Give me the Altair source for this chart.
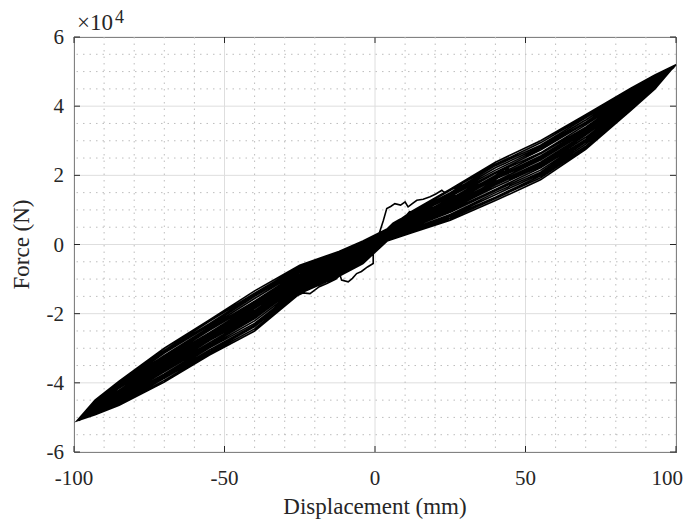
import altair as alt
import pandas as pd

W, H = 602, 415
FONT = "Liberation Serif"
INK = "#262626"

X_TICKS = [-100, -50, 0, 50, 100]
Y_TICKS = [-6, -4, -2, 0, 2, 4, 6]
X_MINOR = [-90, -80, -70, -60, -40, -30, -20, -10, 10, 20, 30, 40, 60, 70, 80, 90]
Y_MINOR = [-5.5, -5, -4.5, -3.5, -3, -2.5, -1.5, -1, -0.5, 0.5, 1, 1.5, 2.5, 3, 3.5, 4.5, 5, 5.5]
X_TITLE = "Displacement (mm)"
Y_TITLE = "Force (N)"
EXPONENT = ["\u00d710", "4"]

# initial small cycles (displacement mm, force x1e4 N)
INIT_X = [0, 1.5, 2.8, 3.9, 5.2, 6.6, 8.5, 10, 11, 12.5, 13.9, 16, 18.3, 20.2, 22.2, 23.3, 25.5, 28, 31.6, 34,
          32, 29, 26, 23, 20, 17, 14, 11.5, 10, 8, 6, 4, 2, 0,
          -0.6, -0.6, -2.5, -4.5, -6.1, -7.5, -8.9, -11.1, -11.6, -13, -16, -18.5, -21.6, -24, -26.6, -29, -31.6, -33.8,
          -31, -28, -24, -20, -16, -12, -9, -6, -3, 0,
          3, 6, 9, 12, 15, 18, 21, 24, 28, 32, 36, 40, 45,
          42, 38, 33, 28, 23, 18, 13, 8, 4, 0, -3, -6, -10, -14, -18, -22, -26, -30, -35, -40, -45,
          -42, -38, -33, -28, -23, -18, -13, -8, -4, 0,
          12, 25, 40, 55, 70, 85, 93]
INIT_Y = [0, 0.35, 0.70, 1.04, 1.10, 1.18, 1.14, 1.23, 1.09, 1.19, 1.28, 1.31, 1.38, 1.46, 1.57, 1.48, 1.60, 1.68, 1.81, 1.95,
          1.70, 1.45, 1.30, 1.22, 1.10, 1.00, 0.92, 0.95, 0.80, 0.72, 0.62, 0.45, 0.25, 0.05,
          -0.30, -0.55, -0.65, -0.78, -0.84, -0.98, -1.08, -1.03, -0.89, -1.00, -1.13, -1.22, -1.42, -1.40, -1.51, -1.62, -1.80, -1.90,
          -1.55, -1.35, -1.15, -1.00, -0.88, -0.72, -0.62, -0.45, -0.20, 0.05,
          0.30, 0.55, 0.75, 0.85, 1.00, 1.08, 1.20, 1.32, 1.45, 1.62, 1.80, 2.00, 2.28,
          2.00, 1.75, 1.50, 1.25, 1.05, 0.88, 0.68, 0.48, 0.30, 0.08, -0.15, -0.40, -0.62, -0.80, -0.95, -1.10, -1.22, -1.40, -1.65, -1.92, -2.25,
          -1.95, -1.65, -1.35, -1.12, -0.90, -0.72, -0.55, -0.35, -0.15, 0.05,
          0.55, 1.10, 1.75, 2.37, 3.18, 4.15, 4.66]

# full-amplitude cycles
X_DOWN = [93, 85, 70, 55, 40, 25, 12, 4, -4, -12, -25, -40, -55, -70, -85, -93]
X_UP = [-93, -85, -70, -55, -40, -25, -12, -4, 4, 12, 25, 40, 55, 70, 85, 93]

POS_PEAK_X = [100.0, 99.5, 99.0, 99.8, 98.5, 99.2, 98.8, 99.6, 98.2, 99.4, 99.1, 98.6]
POS_PEAK_Y = [5.20, 5.16, 5.12, 5.18, 5.08, 5.14, 5.10, 5.17, 5.05, 5.13, 5.11, 5.09]
NEG_PEAK_X = [-99.0, -98.0, -97.5, -98.3, -97.0, -97.8, -96.8, -98.1, -97.2, -96.5, -97.4, -96.9]
NEG_PEAK_Y = [-5.10, -5.07, -5.04, -5.09, -5.00, -5.06, -4.98, -5.08, -5.02, -4.96, -5.03, -4.99]

DOWN = [
    [4.90, 4.52, 3.75, 3.00, 2.38, 1.60, 0.95, 0.45, 0.10, -0.20, -0.60, -1.34, -2.18, -3.00, -3.95, -4.50],
    [4.86, 4.46, 3.66, 2.87, 2.28, 1.50, 0.89, 0.42, 0.04, -0.27, -0.68, -1.45, -2.29, -3.09, -4.03, -4.54],
    [4.82, 4.40, 3.54, 2.78, 2.15, 1.43, 0.83, 0.38, -0.03, -0.34, -0.76, -1.56, -2.39, -3.21, -4.08, -4.58],
    [4.78, 4.32, 3.46, 2.65, 2.06, 1.32, 0.76, 0.35, -0.10, -0.42, -0.85, -1.70, -2.48, -3.30, -4.15, -4.63],
    [4.74, 4.27, 3.34, 2.56, 1.93, 1.25, 0.70, 0.31, -0.16, -0.49, -0.93, -1.79, -2.60, -3.38, -4.24, -4.67],
    [4.88, 4.49, 3.71, 2.94, 2.32, 1.57, 0.92, 0.43, 0.07, -0.24, -0.64, -1.41, -2.22, -3.06, -3.98, -4.52],
    [4.84, 4.43, 3.60, 2.82, 2.22, 1.46, 0.86, 0.40, 0.00, -0.31, -0.72, -1.50, -2.34, -3.14, -4.06, -4.56],
    [4.80, 4.35, 3.51, 2.73, 2.09, 1.39, 0.80, 0.36, -0.06, -0.38, -0.80, -1.64, -2.43, -3.26, -4.12, -4.61],
    [4.76, 4.30, 3.39, 2.62, 1.98, 1.28, 0.73, 0.33, -0.13, -0.45, -0.89, -1.74, -2.55, -3.33, -4.21, -4.65],
    [4.72, 4.22, 3.31, 2.48, 1.89, 1.19, 0.67, 0.29, -0.19, -0.52, -0.97, -1.85, -2.65, -3.45, -4.26, -4.69],
    [4.70, 4.20, 3.26, 2.45, 1.82, 1.16, 0.64, 0.28, -0.23, -0.56, -1.01, -1.91, -2.70, -3.48, -4.30, -4.71],
    [4.73, 4.25, 3.33, 2.53, 1.91, 1.22, 0.69, 0.30, -0.17, -0.50, -0.94, -1.83, -2.62, -3.41, -4.25, -4.68],
]
UP = [
    [-4.92, -4.65, -3.98, -3.20, -2.50, -1.42, -0.92, -0.55, 0.10, 0.33, 0.70, 1.27, 1.87, 2.75, 3.88, 4.50],
    [-4.88, -4.59, -3.87, -3.11, -2.37, -1.34, -0.85, -0.49, 0.14, 0.39, 0.80, 1.37, 1.99, 2.84, 3.95, 4.54],
    [-4.84, -4.51, -3.79, -2.99, -2.28, -1.26, -0.78, -0.42, 0.17, 0.45, 0.87, 1.50, 2.09, 2.96, 4.00, 4.58],
    [-4.79, -4.45, -3.68, -2.90, -2.14, -1.17, -0.70, -0.36, 0.21, 0.52, 0.98, 1.59, 2.22, 3.04, 4.08, 4.62],
    [-4.75, -4.36, -3.60, -2.78, -2.05, -1.09, -0.63, -0.29, 0.24, 0.58, 1.05, 1.72, 2.31, 3.16, 4.13, 4.66],
    [-4.90, -4.62, -3.93, -3.15, -2.44, -1.38, -0.88, -0.52, 0.12, 0.36, 0.75, 1.33, 1.93, 2.80, 3.91, 4.52],
    [-4.86, -4.55, -3.83, -3.05, -2.33, -1.30, -0.81, -0.45, 0.15, 0.42, 0.84, 1.44, 2.04, 2.90, 3.98, 4.56],
    [-4.82, -4.48, -3.74, -2.95, -2.21, -1.22, -0.74, -0.39, 0.19, 0.49, 0.93, 1.55, 2.15, 3.00, 4.04, 4.60],
    [-4.77, -4.41, -3.64, -2.84, -2.09, -1.13, -0.67, -0.32, 0.22, 0.55, 1.02, 1.66, 2.27, 3.10, 4.10, 4.64],
    [-4.73, -4.34, -3.54, -2.74, -1.98, -1.05, -0.60, -0.26, 0.26, 0.61, 1.11, 1.77, 2.38, 3.20, 4.17, 4.68],
    [-4.71, -4.30, -3.50, -2.68, -1.93, -1.01, -0.56, -0.23, 0.28, 0.64, 1.14, 1.82, 2.44, 3.25, 4.21, 4.70],
    [-4.74, -4.36, -3.57, -2.76, -2.01, -1.08, -0.62, -0.28, 0.25, 0.59, 1.08, 1.74, 2.35, 3.17, 4.15, 4.67],
]

px, py = list(INIT_X), list(INIT_Y)
for k in range(len(DOWN)):
    px.append(POS_PEAK_X[k]); py.append(POS_PEAK_Y[k])
    px += X_DOWN; py += DOWN[k]
    px.append(NEG_PEAK_X[k]); py.append(NEG_PEAK_Y[k])
    px += X_UP; py += UP[k]
df = pd.DataFrame({"x": px, "y": py, "i": list(range(len(px)))})

xs = alt.Scale(domain=[-100, 100], nice=False, zero=False)
ys = alt.Scale(domain=[-6, 6], nice=False, zero=False)

def X(f):
    return alt.X(f, scale=xs, axis=None)

def Y(f):
    return alt.Y(f, scale=ys, axis=None)

line = alt.Chart(df).mark_line(color="black", strokeWidth=1.6).encode(
    x=X("x:Q"), y=Y("y:Q"), order="i:Q")

major_x = alt.Chart(pd.DataFrame({"v": X_TICKS})).mark_rule(
    color="#dedede", strokeWidth=1).encode(x=X("v:Q"))
major_y = alt.Chart(pd.DataFrame({"v": Y_TICKS})).mark_rule(
    color="#dedede", strokeWidth=1).encode(y=Y("v:Q"))
minor_x = alt.Chart(pd.DataFrame({"v": X_MINOR})).mark_rule(
    color="#bdbdbd", strokeDash=[1.5, 5], strokeWidth=1).encode(x=X("v:Q"))
minor_y = alt.Chart(pd.DataFrame({"v": Y_MINOR})).mark_rule(
    color="#bdbdbd", strokeDash=[1.5, 5], strokeWidth=1).encode(y=Y("v:Q"))

tdf_x = pd.DataFrame({"v": X_TICKS, "lab": [str(v) for v in X_TICKS]})
tdf_y = pd.DataFrame({"v": Y_TICKS, "lab": [str(v) for v in Y_TICKS]})
tick_b = alt.Chart(tdf_x).mark_rule(color=INK).encode(x=X("v:Q"), y=alt.value(H), y2=alt.value(H - 6))
tick_t = alt.Chart(tdf_x).mark_rule(color=INK).encode(x=X("v:Q"), y=alt.value(0), y2=alt.value(6))
tick_l = alt.Chart(tdf_y).mark_rule(color=INK).encode(y=Y("v:Q"), x=alt.value(0), x2=alt.value(6))
tick_r = alt.Chart(tdf_y).mark_rule(color=INK).encode(y=Y("v:Q"), x=alt.value(W), x2=alt.value(W - 6))

lab_x = alt.Chart(tdf_x.iloc[:-1]).mark_text(
    font=FONT, fontSize=21, color=INK, align="center", baseline="alphabetic").encode(
    x=X("v:Q"), y=alt.value(H + 33), text="lab:N")
lab_x_last = alt.Chart(tdf_x.iloc[-1:]).mark_text(
    font=FONT, fontSize=21, color=INK, align="right", baseline="alphabetic", dx=7).encode(
    x=X("v:Q"), y=alt.value(H + 33), text="lab:N")
lab_y = alt.Chart(tdf_y).mark_text(
    font=FONT, fontSize=21, color=INK, align="right", baseline="middle", dx=-10, dy=1).encode(
    y=Y("v:Q"), x=alt.value(0), text="lab:N")

title_x = alt.Chart(pd.DataFrame({"t": [X_TITLE]})).mark_text(
    font=FONT, fontSize=23, color=INK, align="center", baseline="alphabetic").encode(
    x=alt.value(W / 2), y=alt.value(H + 62), text="t:N")
title_y = alt.Chart(pd.DataFrame({"t": [Y_TITLE]})).mark_text(
    font=FONT, fontSize=23, color=INK, align="center", baseline="alphabetic", angle=270).encode(
    x=alt.value(-45), y=alt.value(H / 2), text="t:N")

exp_df = pd.DataFrame({"x": [X_TICKS[0]], "y": [Y_TICKS[-1]], "t": [EXPONENT[0]], "s": [EXPONENT[1]]})
exp_main = alt.Chart(exp_df).mark_text(
    font=FONT, fontSize=23, align="left", baseline="alphabetic", dx=3, dy=-7, color=INK).encode(
    x=X("x:Q"), y=Y("y:Q"), text="t:N")
exp_sup = alt.Chart(exp_df).mark_text(
    font=FONT, fontSize=18, align="left", baseline="alphabetic", dx=41, dy=-14, color=INK).encode(
    x=X("x:Q"), y=Y("y:Q"), text="s:N")

chart = alt.layer(
    major_x, major_y, minor_x, minor_y, line, tick_b, tick_t, tick_l, tick_r,
    lab_x, lab_x_last, lab_y, title_x, title_y, exp_main, exp_sup
).properties(
    width=W, height=H,
    autosize=alt.AutoSizeParams(type="none"),
    padding={"left": 66, "top": 29, "right": 7, "bottom": 70},
).configure(font=FONT, background="white").configure_view(stroke=INK, strokeWidth=1)

chart.save("out.html", embed_options={"renderer": "svg", "actions": False})
